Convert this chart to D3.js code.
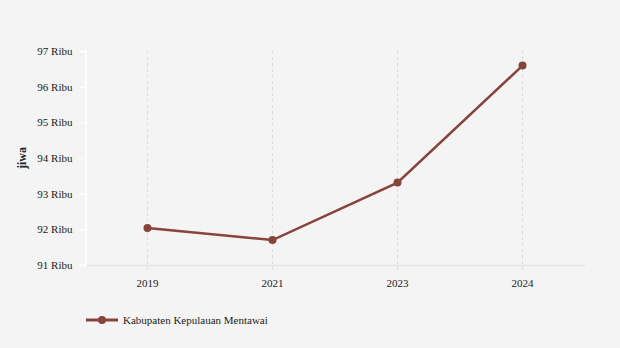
<!DOCTYPE html>
<html>
<head>
<meta charset="utf-8">
<script src="https://cdn.jsdelivr.net/npm/d3@7"></script>
<style>
html,body{margin:0;padding:0;background:#f4f4f4;}
svg{display:block;font-family:"Liberation Serif","Times New Roman",serif;}
</style>
</head>
<body>
<svg id="chart" width="620" height="348"></svg>
<script>
const years = ["2019", "2021", "2023", "2024"];
const values = [92.04, 91.70, 93.31, 96.59];
const yTicks = [91, 92, 93, 94, 95, 96, 97];
const seriesName = "Kabupaten Kepulauan Mentawai";
const yLabel = "jiwa";
const color = "#86443b";

const svg = d3.select("#chart");
svg.append("rect").attr("width", 620).attr("height", 348).attr("fill", "#f4f4f4");

const x = d3.scalePoint().domain(years).range([85, 585]).padding(0.5);
const y = d3.scaleLinear().domain([91, 97]).range([265, 51]);

// vertical dashed grid
svg.append("g").selectAll("line").data(years).join("line")
  .attr("x1", d => x(d)).attr("x2", d => x(d))
  .attr("y1", 51).attr("y2", 270)
  .attr("stroke", "#dcdcdc").attr("stroke-width", 1)
  .attr("stroke-dasharray", "3,3");

// x baseline
svg.append("line").attr("x1", 86).attr("x2", 585).attr("y1", 265.5).attr("y2", 265.5)
  .attr("stroke", "#e3e3e3").attr("stroke-width", 1.5);

// y axis
const yAxis = svg.append("g").attr("transform", "translate(85.5,0)")
  .call(d3.axisLeft(y).tickValues(yTicks).tickSize(5).tickFormat(d => d + " Ribu"));
yAxis.select(".domain").attr("stroke", "#ffffff").attr("stroke-width", 1.5);
yAxis.selectAll(".tick line").attr("stroke", "#ffffff").attr("stroke-width", 1.5);
yAxis.selectAll(".tick text").attr("fill", "#222").attr("font-size", 11)
  .attr("font-family", "Liberation Serif, serif").attr("x", -13);

// x axis labels
svg.append("g").selectAll("text").data(years).join("text")
  .attr("x", d => x(d)).attr("y", 287)
  .attr("text-anchor", "middle").attr("font-size", 11).attr("fill", "#222")
  .text(d => d);

// y label
svg.append("text").attr("transform", "translate(26,158) rotate(-90)")
  .attr("text-anchor", "middle").attr("font-size", 12).attr("font-weight", "bold")
  .attr("fill", "#222").text(yLabel);

// line
const data = years.map((d, i) => ({year: d, value: values[i]}));
svg.append("path").datum(data)
  .attr("fill", "none").attr("stroke", color).attr("stroke-width", 2.5)
  .attr("d", d3.line().x(d => x(d.year)).y(d => y(d.value)));
svg.append("g").selectAll("circle").data(data).join("circle")
  .attr("cx", d => x(d.year)).attr("cy", d => y(d.value)).attr("r", 4)
  .attr("fill", color);

// legend
const lg = svg.append("g");
lg.append("line").attr("x1", 86).attr("x2", 118).attr("y1", 320).attr("y2", 320)
  .attr("stroke", color).attr("stroke-width", 3);
lg.append("circle").attr("cx", 102).attr("cy", 320).attr("r", 4).attr("fill", color);
lg.append("text").attr("x", 123).attr("y", 324).attr("font-size", 11).attr("fill", "#222")
  .text(seriesName);
</script>
</body>
</html>
